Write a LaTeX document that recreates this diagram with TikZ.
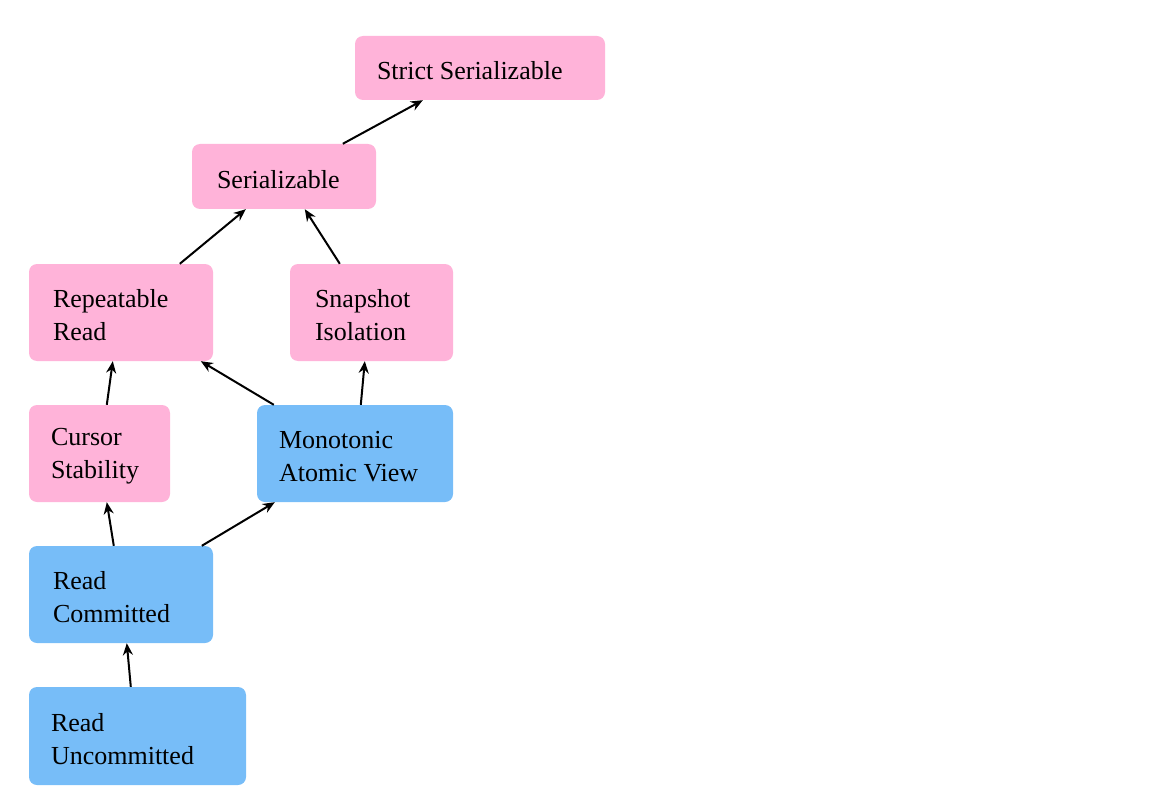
\documentclass[tikz,border=0pt]{standalone}
\usepackage{fontspec}
\setmainfont{Liberation Serif}
\usetikzlibrary{arrows.meta}
\definecolor{pinkbox}{HTML}{FFB3D9}
\definecolor{bluebox}{HTML}{77BDF8}
\tikzset{
  box/.style={rounded corners=8pt, inner sep=0pt},
  pinkb/.style={box, fill=pinkbox},
  blueb/.style={box, fill=bluebox},
  lbl/.style={inner sep=0pt, align=left, text=black,
    font=\fontsize{26}{33}\selectfont,
    execute at begin node={\spaceskip=6.5pt\relax}},
  arr/.style={line width=2pt, -{Stealth[length=12pt,width=10pt]}}
}
\begin{document}
\begin{tikzpicture}[x=1pt,y=-1pt]
\useasboundingbox (0,0) rectangle (1172,805);
\node[pinkb, minimum width=250pt, minimum height=64pt] (strict) at (480,68) {};
\node[pinkb, minimum width=184pt, minimum height=65pt] (ser) at (284,176.5) {};
\node[pinkb, minimum width=184pt, minimum height=97pt] (rr) at (121,312.5) {};
\node[pinkb, minimum width=163pt, minimum height=97pt] (si) at (371.5,312.5) {};
\node[pinkb, minimum width=141pt, minimum height=97pt] (cs) at (99.5,453.5) {};
\node[blueb, minimum width=196pt, minimum height=97pt] (mav) at (355,453.5) {};
\node[blueb, minimum width=184pt, minimum height=97pt] (rc) at (121,594.5) {};
\node[blueb, minimum width=217pt, minimum height=98pt] (ru) at (137.5,736) {};
\node[lbl, text width=206pt] (strictT) at ([yshift=-3pt]strict.center) {Strict Serializable};
\node[lbl, text width=134pt] (serT) at ([yshift=-3pt]ser.center) {Serializable};
\node[lbl, text width=136pt] (rrT) at ([yshift=-3pt]rr.center) {Repeatable\\Read};
\node[lbl, text width=113pt] (siT) at ([yshift=-3pt]si.center) {Snapshot\\Isolation};
\node[lbl, text width=97pt] (csT) at ([yshift=-3pt]cs.center) {Cursor\\Stability};
\node[lbl, text width=152pt] (mavT) at ([yshift=-3pt]mav.center) {Monotonic\\Atomic View};
\node[lbl, text width=136pt] (rcT) at ([yshift=-3pt]rc.center) {Read\\Committed};
\node[lbl, text width=173pt] (ruT) at ([yshift=-3pt]ru.center) {Read\\Uncommitted};
\draw[arr] ([xshift=151pt]ser.north west) -- ([xshift=68pt]strict.south west);
\draw[arr] ([xshift=151pt]rr.north west) -- ([xshift=54pt]ser.south west);
\draw[arr] ([xshift=50pt]si.north west) -- ([xshift=113pt]ser.south west);
\draw[arr] ([xshift=78pt]cs.north west) -- ([xshift=84pt]rr.south west);
\draw[arr] ([xshift=17pt]mav.north west) -- ([xshift=172pt]rr.south west);
\draw[arr] ([xshift=104pt]mav.north west) -- ([xshift=75pt]si.south west);
\draw[arr] ([xshift=85pt]rc.north west) -- ([xshift=78pt]cs.south west);
\draw[arr] ([xshift=173pt]rc.north west) -- ([xshift=18pt]mav.south west);
\draw[arr] ([xshift=102pt]ru.north west) -- ([xshift=98pt]rc.south west);
\end{tikzpicture}
\end{document}
